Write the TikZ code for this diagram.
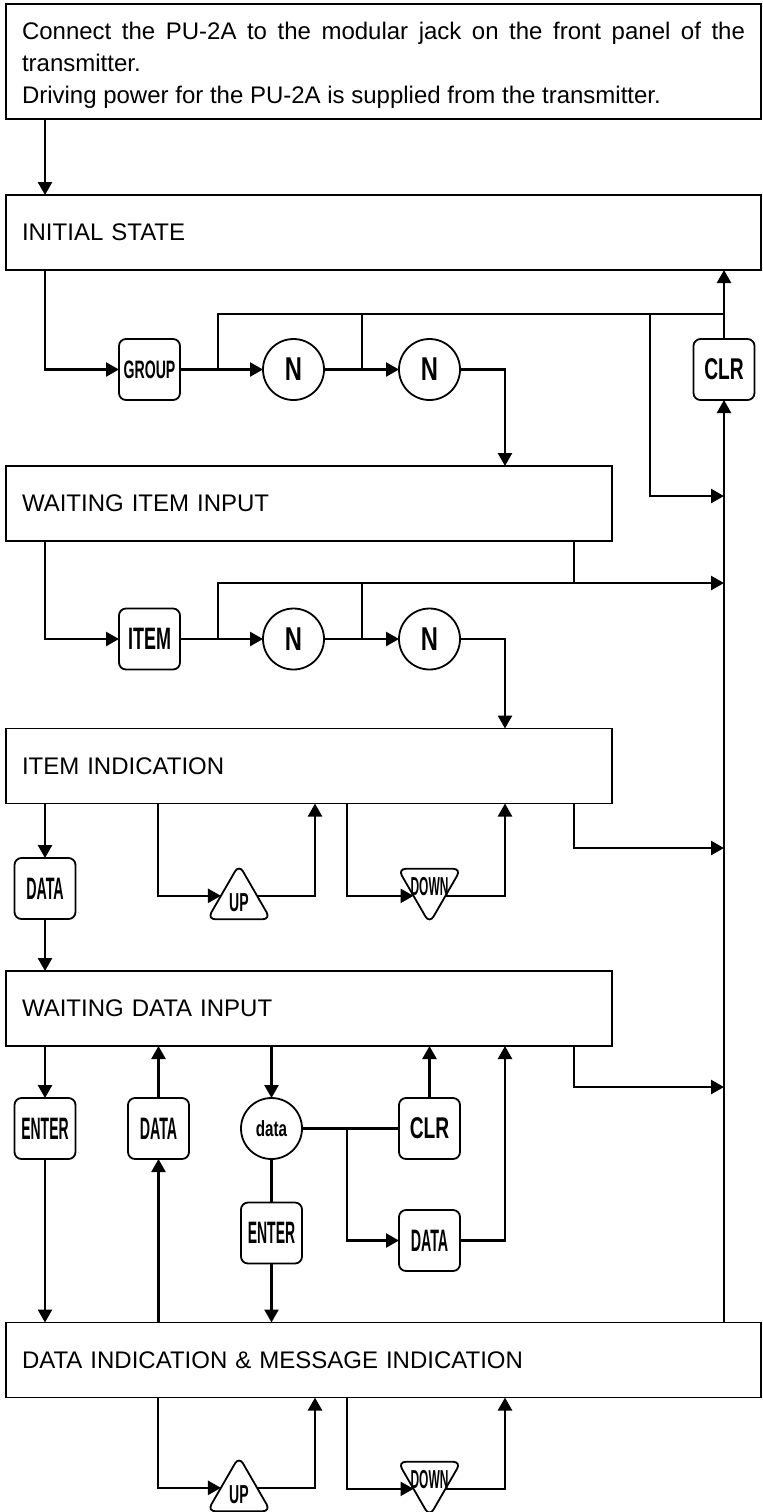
\documentclass[tikz,border=0pt]{standalone}
\usepackage{fontspec}
\setmainfont{Liberation Sans}
\usepackage{graphicx}
\usepackage{tikz}
\usetikzlibrary{arrows.meta,shapes.geometric}

% key caption: size, horizontal squeeze, text
\newcommand{\keytxt}[3]{\fontsize{#1}{#1}\selectfont\bfseries\scalebox{#2}[1]{#3}}

\tikzset{
    state/.style={draw, line width=0.8pt, inner xsep=8pt, inner ysep=0pt, outer sep=0pt,
        minimum height=37.5pt, align=left, font=\fontsize{12}{16}\selectfont},
    key/.style={draw, line width=0.9pt, rounded corners=3.5pt, minimum size=30.5pt,
        inner sep=0pt, outer sep=0pt},
    num/.style={key, circle, sharp corners},
    tri/.style={draw, line width=0.9pt, regular polygon, regular polygon sides=3,
        rounded corners=4pt, minimum size=36.5pt, inner sep=0pt, outer sep=0pt},
    tridown/.style={tri, regular polygon rotate=180},
    trilabel/.style={inner sep=0pt},
    flow/.style={line width=1.25pt, -{Triangle[length=6.5pt,width=7pt]}},
    link/.style={line width=1.25pt},
}

\begin{document}
\begin{tikzpicture}[x=0.5pt, y=-0.5pt]
        % --- 1. Parameters ---
        \useasboundingbox (0,0) rectangle (763,1512);
        \coordinate (colL) at (45,0);
        \coordinate (colUp) at (158,0);
        \coordinate (colUpR) at (315,0);
        \coordinate (colDn) at (347,0);
        \coordinate (colDnR) at (505,0);
        \coordinate (colOut) at (574,0);
        \coordinate (colB1) at (218,0);
        \coordinate (colB2) at (362,0);
        \coordinate (colB3) at (650,0);
        \coordinate (busTop) at (724,314);
        \coordinate (tapA) at (724,496);
        \coordinate (tapB) at (724,583);
        \coordinate (tapC) at (724,848);
        \coordinate (tapD) at (724,1087);

        % --- 2. State boxes ---
        \node[state, text width=361.5pt, align=justify, minimum height=57.5pt] (note) at (383.5,61.5)
            {\hyphenpenalty=10000 \exhyphenpenalty=10000 \tolerance=9999
             \rule{0pt}{12.5pt}Connect the PU-2A to the modular jack on the front panel of the transmitter.\par
             Driving power for the PU-2A is supplied from the transmitter.};
        \node[state, text width=361.5pt] (init) at (383.5,232.5) {INITIAL STATE};
        \node[state, text width=287pt] (wii) at (309,503.5) {WAITING ITEM INPUT};
        \node[state, text width=287pt] (ii) at (309,766) {ITEM INDICATION};
        \node[state, text width=287pt] (wdi) at (309,1008.5) {WAITING DATA INPUT};
        \node[state, text width=361.5pt] (di) at (383.5,1360) {DATA INDICATION \& MESSAGE INDICATION};

        % --- 3. Keys ---
        \node[key] (group) at (149.5,369.5) {\keytxt{12.6}{0.56}{GROUP}};
        \node[num] (n1) at (293.5,369.5) {\keytxt{16.5}{0.72}{N}};
        \node[num] (n2) at (429.5,369.5) {\keytxt{16.5}{0.72}{N}};
        \node[key] (clr1) at (724,369.5) {\keytxt{15}{0.64}{CLR}};

        \node[key] (item) at (149.5,639) {\keytxt{15.5}{0.58}{ITEM}};
        \node[num] (n3) at (293.5,639) {\keytxt{16.5}{0.72}{N}};
        \node[num] (n4) at (429.5,639) {\keytxt{16.5}{0.72}{N}};

        \node[key] (data1) at (45,888.5) {\keytxt{15.5}{0.46}{DATA}};
        \node[tri, label={[trilabel, yshift=-1pt]center:\keytxt{13}{0.54}{UP}}] (up1) at (239,901) {};
        \node[tridown, label={[trilabel]center:\keytxt{13}{0.46}{DOWN}}] (down1) at (429.5,887) {};

        \node[key] (enter1) at (45,1128.5) {\keytxt{15.5}{0.45}{ENTER}};
        \node[key] (data2) at (158.5,1128.5) {\keytxt{15.5}{0.46}{DATA}};
        \node[num] (dat) at (271.5,1128.5) {\keytxt{11}{0.69}{data}};
        \node[key] (clr2) at (429.5,1128.5) {\keytxt{15}{0.64}{CLR}};
        \node[key] (enter2) at (271.5,1233) {\keytxt{15.5}{0.45}{ENTER}};
        \node[key] (data3) at (429.5,1240.5) {\keytxt{15.5}{0.46}{DATA}};

        \node[tri, label={[trilabel, yshift=-1pt]center:\keytxt{13}{0.54}{UP}}] (up2) at (239,1493) {};
        \node[tridown, label={[trilabel]center:\keytxt{13}{0.46}{DOWN}}] (down2) at (429.5,1480) {};

        % --- 4. Group number entry ---
        \draw[flow] (note.south -| colL) -- (init.north -| colL);
        \draw[flow] (init.south -| colL) |- (group);
        \draw[flow] (group) -- (n1);
        \draw[flow] (n1) -- (n2);
        \draw[flow] (n2) -| (wii.north -| colDnR);
        \draw[link] (group -| colB1) |- (busTop);
        \draw[link] (n1 -| colB2) -- (colB2 |- busTop);
        \draw[flow] (colB3 |- busTop) |- (tapA);
        \draw[flow] (clr1) -- (clr1 |- init.south);
        \draw[flow] (di.north -| clr1) -- (clr1);

        % --- 5. Item number entry ---
        \draw[flow] (wii.south -| colL) |- (item);
        \draw[flow] (item) -- (n3);
        \draw[flow] (n3) -- (n4);
        \draw[flow] (n4) -| (ii.north -| colDnR);
        \draw[flow] (item -| colB1) |- (tapB);
        \draw[link] (n3 -| colB2) -- (colB2 |- tapB);
        \draw[link] (wii.south -| colOut) -- (colOut |- tapB);

        % --- 6. Item indication ---
        \draw[flow] (ii.south -| data1) -- (data1);
        \draw[flow] (data1) -- (data1 |- wdi.north);
        \draw[flow] (ii.south -| colUp) |- (up1.164);
        \draw[flow] (up1.16) -| (ii.south -| colUpR);
        \draw[flow] (ii.south -| colDn) |- (down1.209);
        \draw[flow] (down1.331) -| (ii.south -| colDnR);
        \draw[flow] (ii.south -| colOut) |- (tapC);

        % --- 7. Data entry ---
        \draw[flow] (wdi.south -| enter1) -- (enter1);
        \draw[flow] (enter1) -- (enter1 |- di.north);
        \draw[flow] (di.north -| data2) -- (data2);
        \draw[flow] (data2) -- (data2 |- wdi.south);
        \draw[flow] (wdi.south -| dat) -- (dat);
        \draw[link] (dat) -- (clr2);
        \draw[flow] (clr2) -- (clr2 |- wdi.south);
        \draw[flow] (dat -| colDn) |- (data3);
        \draw[flow] (data3) -| (wdi.south -| colDnR);
        \draw[link] (dat) -- (enter2);
        \draw[flow] (enter2) -- (enter2 |- di.north);
        \draw[flow] (wdi.south -| colOut) |- (tapD);

        % --- 8. Data indication ---
        \draw[flow] (di.south -| colUp) |- (up2.164);
        \draw[flow] (up2.16) -| (di.south -| colUpR);
        \draw[flow] (di.south -| colDn) |- (down2.209);
        \draw[flow] (down2.331) -| (di.south -| colDnR);
\end{tikzpicture}
\end{document}
